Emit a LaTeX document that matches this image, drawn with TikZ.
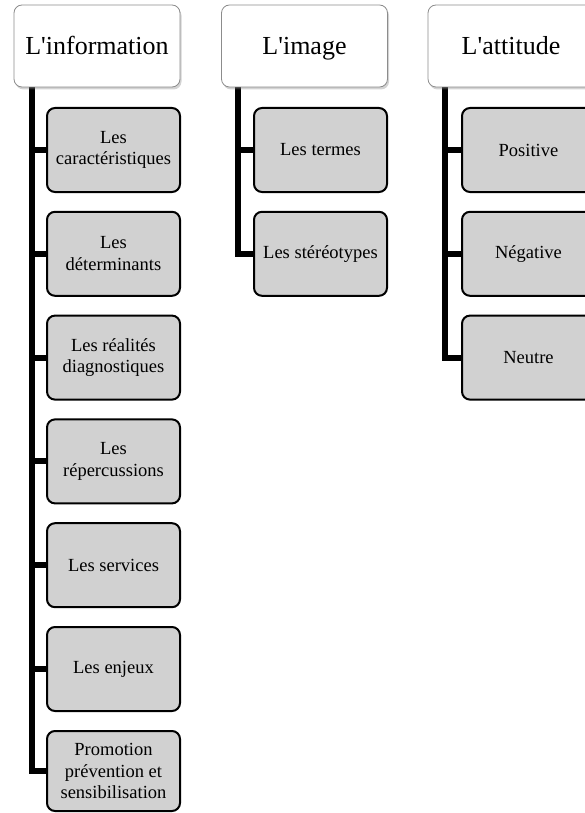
\documentclass[tikz,border=0pt]{standalone}
\usepackage{fontspec}
\setmainfont{Liberation Serif}[Ligatures=TeXOff]
\usetikzlibrary{shadows,backgrounds}
\tikzset{
  head/.style={draw=black!45, line width=0.8pt, fill=white, rounded corners=8pt,
    minimum width=166pt, minimum height=82pt, inner sep=2pt,
    text height=22pt, text depth=4pt,
    font=\fontsize{26}{30}\selectfont,
    drop shadow={opacity=0.35, shadow xshift=1.5pt, shadow yshift=-2.5pt}},
  child/.style={draw=black, line width=2pt, fill=black!18, rounded corners=8pt,
    minimum width=133pt, minimum height=84pt, inner sep=2pt, align=center,
    font=\fontsize{18.5}{21.6}\selectfont},
  trunk/.style={line width=6pt, line join=miter, line cap=rect}
}
\begin{document}
\begin{tikzpicture}[x=1pt,y=-1pt]
\clip (0,0) rectangle (585,813);
% headers
\node[head] (h1) at (97,46) {L'information};
\node[head] (h2) at (304.5,46) {L'image};
\node[head] (h3) at (511,46) {L'attitude};
% column 1
\node[child] (a1) at (113.5,150) {Les\\caractéristiques};
\node[child] (a2) at (113.5,253.8) {Les\\déterminants};
\node[child] (a3) at (113.5,357.6) {Les réalités\\diagnostiques};
\node[child] (a4) at (113.5,461.4) {Les\\répercussions};
\node[child] (a5) at (113.5,565.2) {Les services};
\node[child] (a6) at (113.5,669) {Les enjeux};
\node[child, minimum height=80pt] (a7) at (113.5,771) {Promotion\\prévention et\\sensibilisation};
% column 2
\node[child] (b1) at (320.5,150) {Les termes};
\node[child] (b2) at (320.5,253.8) {Les stéréotypes};
% column 3
\node[child] (c1) at (528.5,150) {Positive};
\node[child] (c2) at (528.5,253.8) {Négative};
\node[child] (c3) at (528.5,357.6) {Neutre};
% connectors
\begin{pgfonlayer}{background}
\draw[trunk] (h1.south -| 32,0) |- (a7.west);
\foreach \n in {a1,a2,a3,a4,a5,a6} \draw[trunk] (\n.west -| 32,0) -- (\n.west);
\draw[trunk] (h2.south -| 238,0) |- (b2.west);
\draw[trunk] (b1.west -| 238,0) -- (b1.west);
\draw[trunk] (h3.south -| 445,0) |- (c3.west);
\foreach \n in {c1,c2} \draw[trunk] (\n.west -| 445,0) -- (\n.west);
\end{pgfonlayer}
\end{tikzpicture}
\end{document}
